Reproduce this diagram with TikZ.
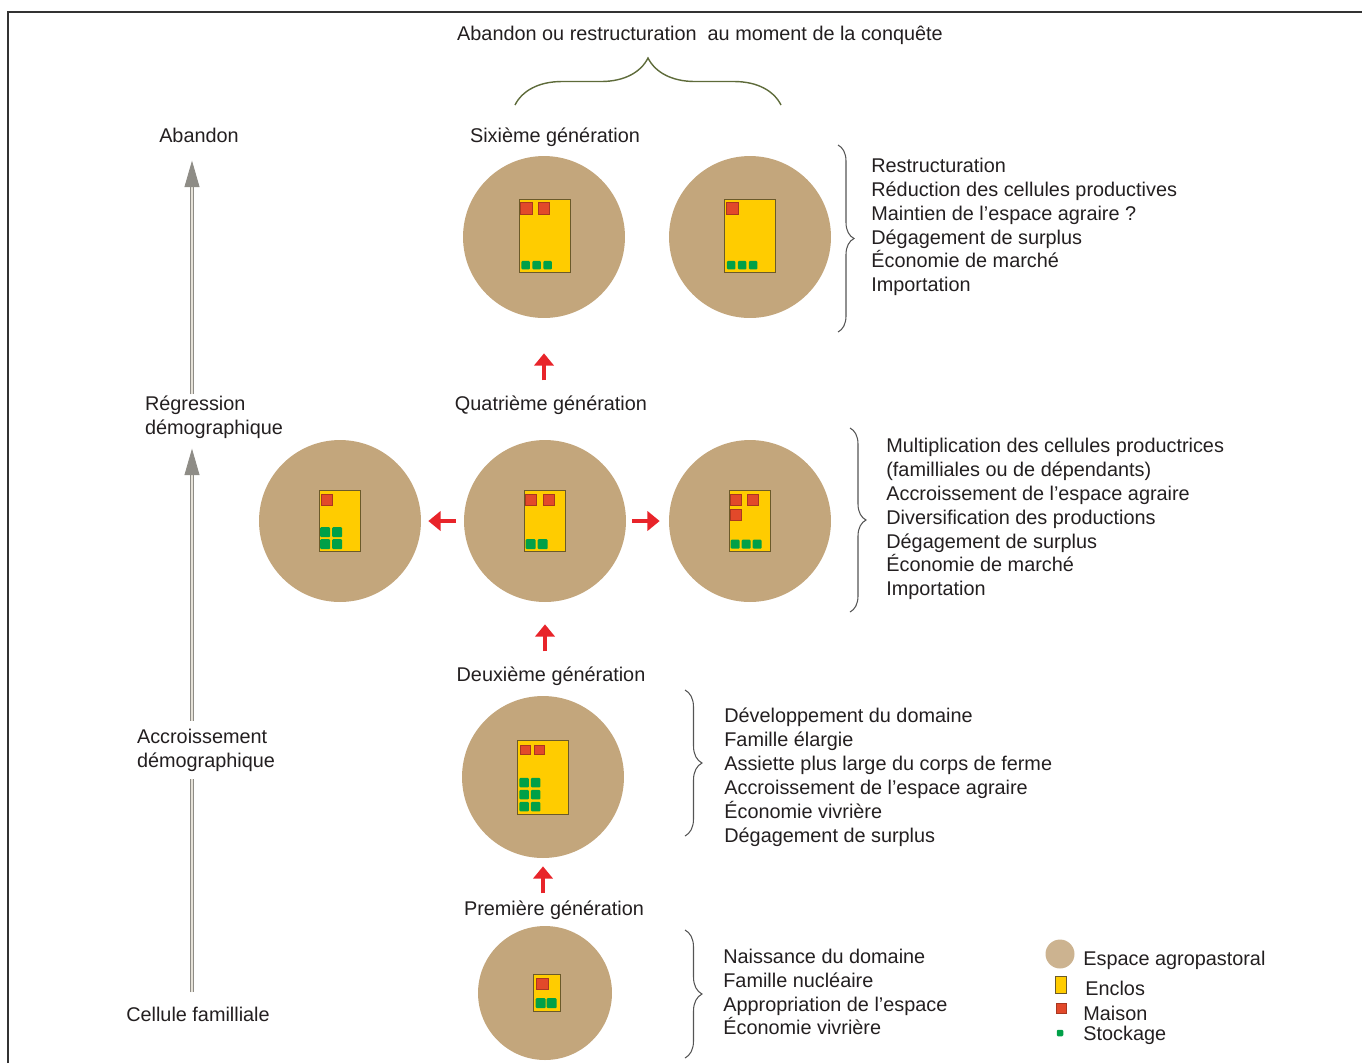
\documentclass[tikz,border=0pt]{standalone}
\usepackage{fontspec}
\setmainfont{Liberation Sans}
\usepackage{xcolor}
\definecolor{espacetan}{HTML}{C3A67C}
\definecolor{enclosyellow}{HTML}{FFCC00}
\definecolor{enclosedge}{HTML}{6B5A2A}
\definecolor{maisonred}{HTML}{E2492A}
\definecolor{stockgreen}{HTML}{00A048}
\definecolor{arrowred}{HTML}{E8242A}
\definecolor{braceolive}{HTML}{5E6B3A}
\definecolor{bracegray}{HTML}{555555}
\definecolor{axisgray}{HTML}{8E8C86}
\definecolor{axislight}{HTML}{E6E2D8}
\definecolor{textgray}{HTML}{231F20}
\usepackage{tikz}
\usetikzlibrary{arrows.meta,positioning,calc,decorations.pathreplacing}
\tikzset{
    dom_espace/.style={circle, fill=espacetan, draw=none, inner sep=0pt, minimum size=#1},
    dom_espace/.default=3.24cm,
    dom_enclos/.style={rectangle, fill=enclosyellow, draw=enclosedge, line width=0.4pt, inner sep=0pt},
    dom_maison/.style={rectangle, fill=maisonred, draw=maisonred!75!black, line width=0.2pt, inner sep=0pt, minimum size=#1},
    dom_maison/.default=0.23cm,
    dom_stock/.style={rectangle, rounded corners=0.6pt, fill=stockgreen, inner sep=0pt, minimum size=#1},
    dom_stock/.default=0.19cm,
    dom_arrow/.style={draw=arrowred, line width=2.6pt, -{Triangle[length=7pt,width=11pt]}},
    axis_arrow/.style={draw=axisgray, double=axislight, line width=0.5pt, double distance=1.6pt, -{Triangle[length=15pt,width=8.5pt,fill=axisgray]}},
    gen_label/.style={font=\fontsize{11.3}{13.6}\selectfont, text=textgray, inner sep=0pt},
    list_text/.style={gen_label, align=left, anchor=west},
    brace_dark/.style={draw=bracegray, line width=0.6pt, decorate, decoration={brace, amplitude=#1}},
    brace_olive/.style={draw=braceolive, line width=0.8pt, decorate, decoration={brace, amplitude=#1}},
    frame_line/.style={draw=black!80, line width=1.1pt}
}

\begin{document}
\begin{tikzpicture}[x=0.02cm, y=-0.02cm]
\useasboundingbox (0,0) rectangle (1362,1063);
\draw[frame_line] (8,1063) -- (8,12) -- (1362,12);

% conquete
\node[gen_label] (t_conq) at (700,35) {Abandon ou restructuration\ \ au moment de la conquête};
\draw[brace_olive=0.94cm] (515,105) -- (781,105);

% sixieme generation
\node[gen_label] (l_six) at (555,137) {Sixième génération};
\node[dom_espace] (c6a) at (544,237) {};
\node[dom_espace] (c6b) at (750,237) {};
\node[dom_enclos, minimum width=1.02cm, minimum height=1.46cm] (e6a) at (544.5,236) {};
\node[dom_enclos, minimum width=1.02cm, minimum height=1.46cm] (e6b) at (750,236) {};
\foreach \dx [count=\i] in {7.5,25} \node[dom_maison] (e6a-m\i) at ([shift={(\dx,9)}]e6a.north west) {};
\foreach \dx [count=\i] in {7,18,29} \node[dom_stock=0.17cm] (e6a-s\i) at ([shift={(\dx,66)}]e6a.north west) {};
\node[dom_maison] (e6b-m1) at ([shift={(8,9)}]e6b.north west) {};
\foreach \dx [count=\i] in {7,18,29} \node[dom_stock=0.17cm] (e6b-s\i) at ([shift={(\dx,66)}]e6b.north west) {};
\draw[brace_dark=0.32cm] (838,145) -- (838,332);
\node[list_text] (txt6) at (871,227) {Restructuration\\Réduction des cellules productives\\Maintien de l’espace agraire ?\\Dégagement de surplus\\Économie de marché\\Importation};

% quatrieme generation
\node[gen_label] (l_quat) at (551,405) {Quatrième génération};
\node[dom_espace] (cl) at (340,521) {};
\node[dom_espace] (c4) at (545,521) {};
\node[dom_espace] (cr) at (750,521) {};
\node[dom_enclos, minimum width=0.82cm, minimum height=1.22cm] (el) at (339.5,521) {};
\node[dom_enclos, minimum width=0.82cm, minimum height=1.22cm] (e4) at (545,521) {};
\node[dom_enclos, minimum width=0.82cm, minimum height=1.22cm] (er) at (749.5,521) {};
\node[dom_maison=0.22cm] (el-m1) at ([shift={(8.5,10)}]el.north west) {};
\foreach \dx/\dy [count=\i] in {6.5/42,18.5/42,6.5/54,18.5/54} \node[dom_stock=0.2cm] (el-s\i) at ([shift={(\dx,\dy)}]el.north west) {};
\foreach \dx [count=\i] in {7,25} \node[dom_maison=0.22cm] (e4-m\i) at ([shift={(\dx,9.5)}]e4.north west) {};
\foreach \dx [count=\i] in {6.5,18.5} \node[dom_stock=0.2cm] (e4-s\i) at ([shift={(\dx,54)}]e4.north west) {};
\foreach \dx/\dy [count=\i] in {7.5/9.5,24.5/9.5,7.5/24.5} \node[dom_maison=0.22cm] (er-m\i) at ([shift={(\dx,\dy)}]er.north west) {};
\foreach \dx [count=\i] in {6.5,17.5,28.5} \node[dom_stock=0.18cm] (er-s\i) at ([shift={(\dx,54)}]er.north west) {};
\draw[dom_arrow, shorten <=0.3cm, shorten >=0.7cm] (l_quat.north -| c6a) -- (c6a.south);
\draw[dom_arrow, shorten <=0.16cm, shorten >=0.14cm] (c4.west) -- (cl.east);
\draw[dom_arrow, shorten <=0.12cm, shorten >=0.18cm] (c4.east) -- (cr.west);
\draw[brace_dark=0.32cm] (850,428) -- (850,612);
\node[list_text] (txt4) at (886,519) {Multiplication des cellules productrices\\(familliales ou de dépendants)\\Accroissement de l’espace agraire\\Diversification des productions\\Dégagement de surplus\\Économie de marché\\Importation};

% deuxieme generation
\node[gen_label] (l_deux) at (551,676) {Deuxième génération};
\node[dom_espace] (c2) at (543,777) {};
\node[dom_enclos, minimum width=1.02cm, minimum height=1.48cm] (e2) at (543,777) {};
\foreach \dx [count=\i] in {8.3,21.6} \node[dom_maison=0.2cm] (e2-m\i) at ([shift={(\dx,10)}]e2.north west) {};
\foreach \dx/\dy [count=\i] in {7/43,18.5/43,7/55,18.5/55,7/67,18.5/67} \node[dom_stock] (e2-s\i) at ([shift={(\dx,\dy)}]e2.north west) {};
\draw[dom_arrow, shorten <=0.3cm, shorten >=0.44cm] (l_deux.north -| c4) -- (c4.south);
\draw[brace_dark=0.34cm] (685,690) -- (685,836);
\node[list_text] (txt2) at (724,777) {Développement du domaine\\Famille élargie\\Assiette plus large du corps de ferme\\Accroissement de l’espace agraire\\Économie vivrière\\Dégagement de surplus};

% premiere generation
\node[gen_label] (l_prem) at (554,910) {Première génération};
\node[dom_espace=2.68cm] (c1) at (545,993) {};
\node[dom_enclos, minimum width=0.54cm, minimum height=0.74cm] (e1) at (546.5,992.5) {};
\node[dom_maison] (e1-m1) at ([shift={(9.5,10)}]e1.north west) {};
\foreach \dx [count=\i] in {8,19} \node[dom_stock=0.2cm] (e1-s\i) at ([shift={(\dx,29.5)}]e1.north west) {};
\draw[dom_arrow, shorten <=0.14cm, shorten >=0.16cm] (l_prem.north -| c2) -- (c2.south);
\draw[brace_dark=0.34cm] (685,930) -- (685,1058);
\node[list_text] (txt1) at (723,992) {Naissance du domaine\\Famille nucléaire\\Appropriation de l’espace\\Économie vivrière};

% axe demographique
\coordinate (ax_x) at (192,0);
\node[gen_label] (ax_aband) at (199,135) {Abandon};
\node[gen_label, align=left] (ax_regr) at (214,417) {Régression\\démographique};
\node[gen_label] (ax_cell) at (198,1014) {Cellule familliale};
\draw[axis_arrow, shorten <=0.28cm, shorten >=0.2cm] (ax_cell.north -| ax_x) -- (ax_regr.south -| ax_x);
\node[gen_label, align=left, fill=white, inner ysep=0.16cm] (ax_accr) at (206,750) {Accroissement\\démographique};
\draw[axis_arrow, shorten <=0.02cm, shorten >=0.36cm] (ax_regr.north -| ax_x) -- (ax_aband.south -| ax_x);

% legende
\node[dom_espace=0.58cm, fill=espacetan!85] (lg_esp) at (1060,954) {};
\node[gen_label, anchor=west] (lg_esp_t) at (1083,960) {Espace agropastoral};
\node[dom_enclos, minimum width=0.22cm, minimum height=0.34cm] (lg_enc) at (1061,985) {};
\node[gen_label, anchor=west] (lg_enc_t) at (1085,988) {Enclos};
\node[dom_maison=0.19cm] (lg_mai) at (1061,1008) {};
\node[gen_label, anchor=west] (lg_mai_t) at (1083,1013) {Maison};
\node[dom_stock=0.13cm] (lg_sto) at (1060,1033) {};
\node[gen_label, anchor=west] (lg_sto_t) at (1083,1035) {Stockage};
\end{tikzpicture}
\end{document}
